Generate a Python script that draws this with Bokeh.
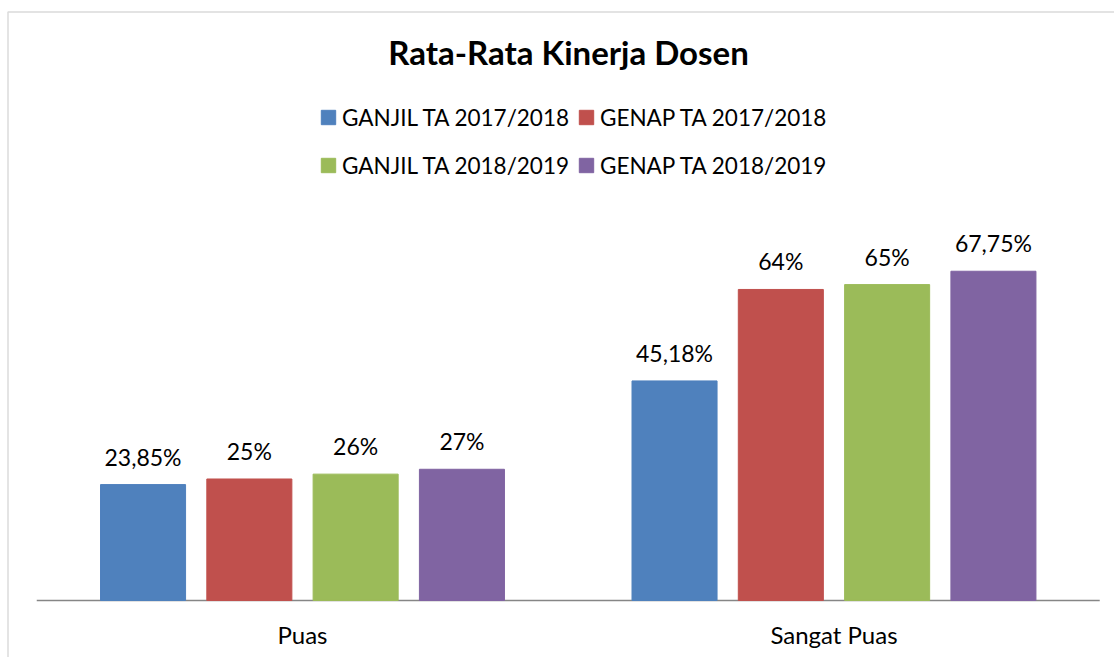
import numpy as np
from bokeh.plotting import figure
from bokeh.models import (ColumnDataSource, Range1d, LabelSet, Label,
                          Legend, LegendItem, BoxAnnotation)
from bokeh.core.properties import value
from bokeh.embed import file_html
from bokeh.resources import INLINE

# ---- data ----
title_text = "Rata-Rata Kinerja Dosen"
categories = ["Puas", "Sangat Puas"]
series_names = ["GANJIL TA 2017/2018", "GENAP TA 2017/2018",
                "GANJIL TA 2018/2019", "GENAP TA 2018/2019"]
ganjil_2017_2018 = [23.85, 45.18]
genap_2017_2018 = [25, 64]
ganjil_2018_2019 = [26, 65]
genap_2018_2019 = [27, 67.75]
series_values = [ganjil_2017_2018, genap_2017_2018, ganjil_2018_2019, genap_2018_2019]
colors = ["#4F81BD", "#C0504D", "#9BBB59", "#8064A2"]

FONT = "Lato"
W, H = 1114, 657


def fmt(v):
    return f"{v:g}".replace(".", ",") + "%"


cat_pos = np.arange(len(categories), dtype=float)

# frame covers the whole canvas so the title, legend and border are not clipped
p = figure(x_range=Range1d(-0.5682, 1.5278), y_range=Range1d(-11.73, 123.46),
           width=W, height=H, output_backend="svg", toolbar_location=None,
           min_border=0, x_axis_location=None, y_axis_location=None)
p.outline_line_color = None
p.grid.grid_line_color = None
p.background_fill_color = "white"

# category axis line (spans both category bands)
p.segment(x0=[cat_pos[0] - 0.5], y0=[0], x1=[cat_pos[-1] + 0.5], y1=[0],
          line_color="#868686", line_width=1.5)

# category tick labels
cat_src = ColumnDataSource(dict(x=cat_pos, y=[0] * len(categories), txt=categories))
p.add_layout(LabelSet(x="x", y="y", text="txt", source=cat_src, text_align="center",
                      text_baseline="middle", y_offset=-34, text_font=value(FONT),
                      text_font_size="24px", text_color="#000000"))

offsets = [-0.3, -0.1, 0.1, 0.3]
items = []
for i, (name, vals) in enumerate(zip(series_names, series_values)):
    src = ColumnDataSource(dict(x=cat_pos + offsets[i], val=vals,
                                txt=[fmt(v) for v in vals]))
    r = p.vbar(x="x", top="val", bottom=0, width=0.16, source=src,
               fill_color=colors[i], line_color=colors[i])
    items.append(LegendItem(label=name, renderers=[r]))
    p.add_layout(LabelSet(x="x", y="val", text="txt", source=src, text_align="center",
                          text_baseline="alphabetic", y_offset=19,
                          text_font=value(FONT), text_font_size="23px",
                          text_color="#000000"))

legend = Legend(items=items, orientation="horizontal", ncols=2,
                location=(319, 472), glyph_width=18, glyph_height=18,
                label_height=40, label_standoff=5, spacing=8, padding=0, margin=0,
                border_line_color=None, background_fill_alpha=0,
                label_text_font=FONT, label_text_font_size="22.5px",
                label_text_color="#000000")
p.add_layout(legend, "center")

p.add_layout(Label(x=568, y=H - 51.5, x_units="screen", y_units="screen", text=title_text,
                   text_align="center", text_baseline="alphabetic", text_font=FONT,
                   text_font_style="bold", text_font_size="33px", text_color="#000000"))

p.add_layout(BoxAnnotation(left=7.5, right=W + 20, top=H - 11.5, bottom=-50,
                           left_units="screen", right_units="screen",
                           top_units="screen", bottom_units="screen",
                           fill_alpha=0, line_color="#898989", line_width=1.5))

open("out.html", "w").write(file_html(p, INLINE))
